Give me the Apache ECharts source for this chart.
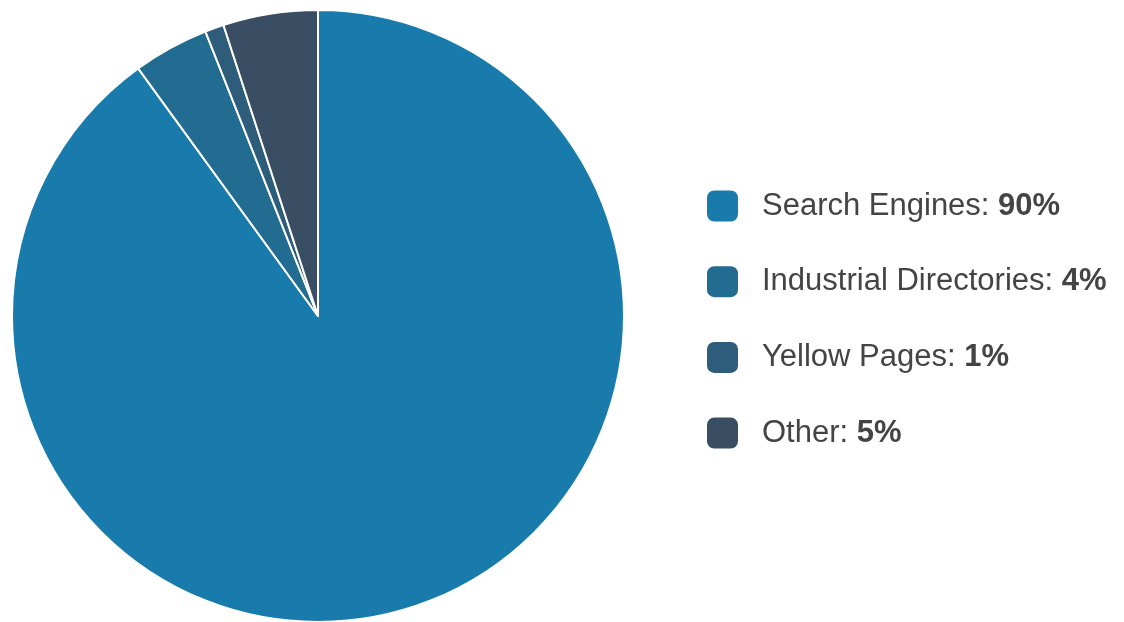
<!DOCTYPE html>
<html><head><meta charset="utf-8">
<script src="https://cdn.jsdelivr.net/npm/echarts@6/dist/echarts.min.js"></script>
<style>html,body{margin:0;padding:0;background:#fff}#c{width:1124px;height:622px}</style>
</head><body><div id="c"></div>
<script>
const categories = ["Search Engines", "Industrial Directories", "Yellow Pages", "Other"];
const values = [90, 4, 1, 5];
const colors = ["#187bab", "#226b91", "#2d5d7b", "#394d63"];

const chart = echarts.init(document.getElementById('c'));
const data = categories.map((n, i) => ({ name: n, value: values[i], itemStyle: { color: colors[i] } }));
chart.setOption({
  animation: false,
  legend: {
    orient: 'vertical',
    left: 705, top: 188.5,
    padding: 0,
    itemWidth: 33, itemHeight: 33, itemGap: 40.7,
    icon: 'roundRect',
    formatter: function (name) {
      const i = categories.indexOf(name);
      return name + ': {b|' + values[i] + '%}';
    },
    textStyle: {
      fontFamily: 'Liberation Sans, Arial, sans-serif',
      fontSize: 31, color: '#444444',
      padding: [0, 0, 0, 18],
      rich: { b: { fontWeight: 'bold', fontSize: 31, color: '#444444', fontFamily: 'Liberation Sans, Arial, sans-serif' } }
    }
  },
  series: [{
    type: 'pie',
    center: [318, 316],
    radius: 306,
    startAngle: 90,
    clockwise: true,
    label: { show: false },
    labelLine: { show: false },
    itemStyle: { borderColor: '#ffffff', borderWidth: 2 },
    emphasis: { disabled: true },
    data: data
  }]
});
</script></body></html>
